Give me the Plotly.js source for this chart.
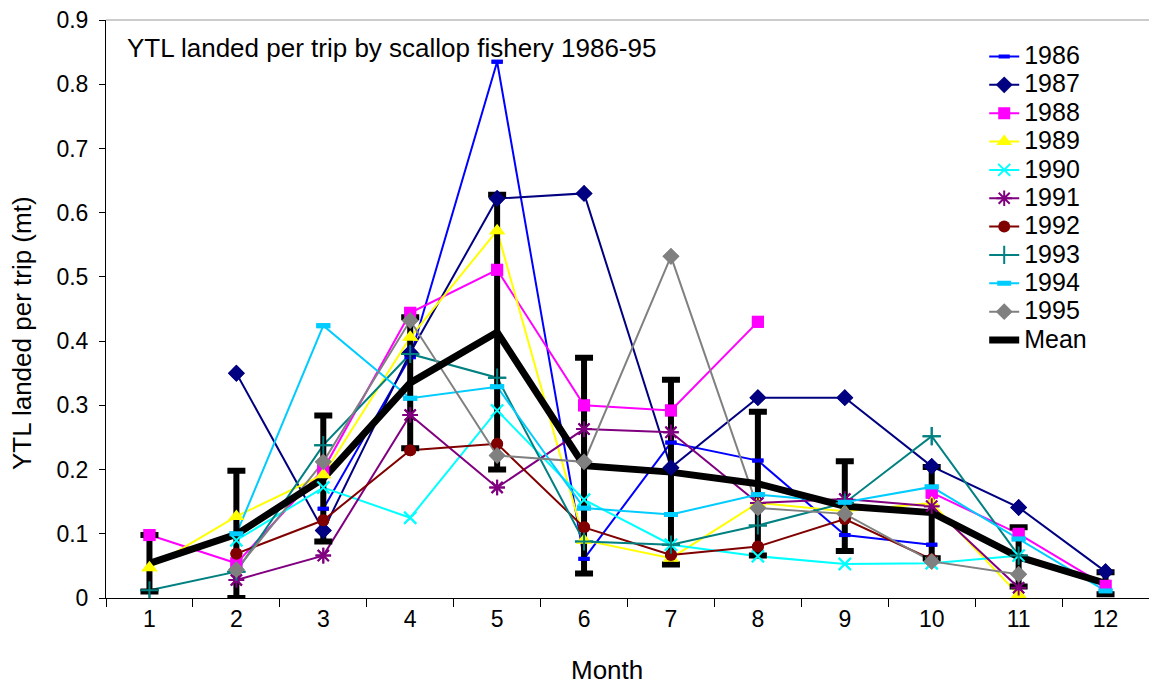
<!DOCTYPE html>
<html>
<head>
<meta charset="utf-8">
<script src="https://cdn.plot.ly/plotly-3.0.1.min.js"></script>
<style>html,body{margin:0;padding:0;background:#fff;}#chart{width:1149px;height:685px;}</style>
</head>
<body>
<div id="chart"></div>
<script>
const months = ["1","2","3","4","5","6","7","8","9","10","11","12"];
const y1986 = [null, null, 0.139, 0.375, 0.835, 0.061, 0.242, 0.214, 0.098, 0.083, null, null];
const y1987 = [null, 0.35, 0.105, 0.382, 0.622, 0.63, 0.203, 0.312, 0.312, 0.205, 0.141, 0.041];
const y1988 = [0.098, 0.054, 0.2, 0.444, 0.511, 0.30, 0.292, 0.43, null, 0.164, 0.10, 0.019];
const y1989 = [0.047, 0.127, 0.192, 0.406, 0.572, 0.09, 0.062, 0.148, 0.135, 0.148, 0.005, null];
const y1990 = [null, 0.09, 0.172, 0.125, 0.292, 0.153, 0.083, 0.065, 0.053, 0.054, 0.066, null];
const y1991 = [null, 0.028, 0.066, 0.285, 0.172, 0.263, 0.258, 0.148, 0.154, 0.143, 0.016, null];
const y1992 = [null, 0.069, 0.121, 0.23, 0.24, 0.11, 0.067, 0.08, 0.123, 0.06, null, null];
const y1993 = [0.012, 0.041, 0.238, 0.38, 0.343, 0.088, 0.083, 0.113, 0.148, 0.252, 0.066, null];
const y1994 = [null, 0.1, 0.424, 0.311, 0.329, 0.14, 0.13, 0.161, 0.149, 0.173, 0.092, 0.011];
const y1995 = [null, 0.044, 0.212, 0.432, 0.222, 0.212, 0.532, 0.14, 0.131, 0.057, 0.037, null];
const meanVals = [0.054, 0.099, 0.186, 0.335, 0.414, 0.206, 0.196, 0.178, 0.143, 0.133, 0.064, 0.023];
const meanErr = [0.044, 0.099, 0.098, 0.102, 0.214, 0.168, 0.144, 0.112, 0.07, 0.071, 0.046, 0.017];
const yearNames = ["1986","1987","1988","1989","1990","1991","1992","1993","1994","1995"];
const yearData = [y1986,y1987,y1988,y1989,y1990,y1991,y1992,y1993,y1994,y1995];

const styles = [
  {color:"#0000FF", symbol:"line-ew", size:8, lw:4},
  {color:"#000080", symbol:"diamond", size:13, lw:0},
  {color:"#FF00FF", symbol:"square", size:12, lw:0},
  {color:"#FFFF00", symbol:"triangle-up", size:14, lw:0},
  {color:"#00FFFF", symbol:"x-thin", size:12, lw:2},
  {color:"#800080", symbol:"asterisk", size:13, lw:2},
  {color:"#800000", symbol:"circle", size:12, lw:0},
  {color:"#008080", symbol:"cross-thin", size:13, lw:2},
  {color:"#00CCFF", symbol:"line-ew", size:10, lw:5},
  {color:"#808080", symbol:"diamond", size:13, lw:0}
];
const legText = n => '<span style="font-size:25px">' + n + '</span>';

const traces = [];
yearData.forEach((d,i)=>{
  const s = styles[i];
  traces.push({
    x: months, y: d, name: legText(yearNames[i]), type:"scatter", mode:"lines+markers",
    connectgaps:false,
    line:{color:s.color, width:2},
    marker:{symbol:s.symbol, size:s.size, color:s.color, line:{color:s.color, width:s.lw}}
  });
});
traces.push({
  x: months, y: meanVals, name: legText("Mean"), type:"scatter", mode:"lines",
  line:{color:"#000000", width:7},
  error_y:{type:"data", array:meanErr, visible:true, color:"#000000", thickness:6, width:9}
});
yearData.forEach((d,i)=>{
  const s = styles[i];
  traces.push({
    x: months, y: d, name: yearNames[i], type:"scatter", mode:"markers",
    showlegend:false, hoverinfo:"skip",
    marker:{symbol:s.symbol, size:s.size, color:s.color, line:{color:s.color, width:s.lw}}
  });
});

const fnt = "Liberation Sans, Arial, sans-serif";
const layout = {
  width:1149, height:685,
  margin:{l:106, r:0, t:20, b:87},
  paper_bgcolor:"#fff", plot_bgcolor:"#fff",
  font:{family:fnt, size:20, color:"#000"},
  showlegend:true,
  legend:{x:0.842, y:0.97, xanchor:"left", yanchor:"top", bgcolor:"rgba(255,255,255,0)",
          font:{family:fnt, size:19.5, color:"#000"}, tracegroupgap:0},
  xaxis:{type:"category", range:[-0.5,11.5], tickson:"boundaries", ticks:"outside", ticklen:8,
         tickcolor:"#000", showline:true, linecolor:"#000", linewidth:1, showgrid:false, zeroline:false,
         tickfont:{family:fnt, size:23}},
  yaxis:{range:[0,0.9], dtick:0.1, tick0:0, ticks:"outside", ticklen:6, tickcolor:"#000",
         showline:true, linecolor:"#000", linewidth:1, showgrid:false, zeroline:false,
         tickfont:{family:fnt, size:23}, ticklabelstandoff:6},
  shapes:[{type:"line", xref:"paper", yref:"paper", x0:0, x1:1, y0:1, y1:1, line:{color:"#999", width:1}}],
  annotations:[
    {text:"YTL landed per trip by scallop fishery 1986-95", xref:"paper", yref:"paper",
     x:0.018, y:0.951, xanchor:"left", yanchor:"middle", showarrow:false,
     font:{family:fnt, size:26, color:"#000"}},
    {text:"Month", xref:"paper", yref:"paper", x:0.48, y:-0.1246, xanchor:"center", yanchor:"middle",
     showarrow:false, font:{family:fnt, size:26, color:"#000"}},
    {text:"YTL landed per trip (mt)", xref:"paper", yref:"paper", x:-0.0805, y:0.4585, textangle:-90,
     xanchor:"center", yanchor:"middle", showarrow:false, font:{family:fnt, size:26, color:"#000"}}
  ]
};
Plotly.newPlot("chart", traces, layout, {displayModeBar:false, staticPlot:true});
</script>
</body>
</html>
